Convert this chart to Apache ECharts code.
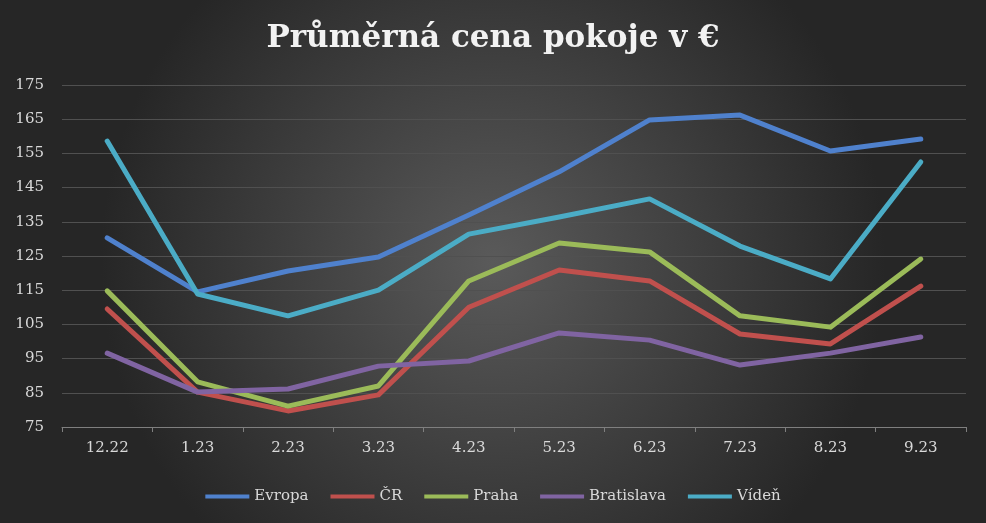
<!DOCTYPE html>
<html>
<head>
<meta charset="utf-8">
<script src="https://cdn.jsdelivr.net/npm/echarts@6/dist/echarts.min.js"></script>
<style>
html, body { margin: 0; padding: 0; }
#chart { width: 986px; height: 523px; }
</style>
</head>
<body>
<div id="chart"></div>
<script>
var months = ['12.22', '1.23', '2.23', '3.23', '4.23', '5.23', '6.23', '7.23', '8.23', '9.23'];
var evropa = [130.3, 114.5, 120.6, 124.7, 137, 149.6, 164.8, 166.2, 155.7, 159.2];
var cr = [109.5, 85.2, 79.7, 84.4, 110, 120.9, 117.7, 102.2, 99.3, 116.2];
var praha = [114.8, 88.2, 81.1, 87, 117.7, 128.8, 126.2, 107.5, 104.2, 124.1];
var bratislava = [96.6, 85.2, 86.1, 92.8, 94.3, 102.5, 100.4, 93.1, 96.6, 101.3];
var viden = [158.6, 113.9, 107.5, 115, 131.4, 136.4, 141.7, 127.9, 118.3, 152.5];

var font = 'DejaVu Serif';
function line(name, data, color) {
    return {
        name: name,
        type: 'line',
        data: data,
        symbol: 'none',
        lineStyle: {width: 5, color: color, cap: 'round', join: 'round'},
        itemStyle: {color: color}
    };
}

var myChart = echarts.init(document.getElementById('chart'));
myChart.setOption({
    backgroundColor: {
        type: 'radial', x: 0.5, y: 0.5, r: 0.75,
        colorStops: [{offset: 0, color: '#5a5a5a'}, {offset: 1, color: '#262626'}]
    },
    title: {
        text: 'Průměrná cena pokoje v €',
        left: 'center',
        top: 18,
        textStyle: {color: '#f2f2f2', fontFamily: font, fontWeight: 'bold', fontSize: 31}
    },
    legend: {
        bottom: 14,
        icon: 'rect',
        itemWidth: 44,
        itemHeight: 4,
        itemGap: 22,
        textStyle: {color: '#d9d9d9', fontFamily: font, fontSize: 15}
    },
    grid: {left: 62, right: 20, top: 85, bottom: 96},
    xAxis: {
        type: 'category',
        data: months,
        axisLine: {lineStyle: {color: '#7f7f7f'}},
        axisTick: {show: true, lineStyle: {color: '#7f7f7f'}},
        axisLabel: {color: '#d9d9d9', fontFamily: font, fontSize: 15, margin: 14}
    },
    yAxis: {
        type: 'value',
        min: 75,
        max: 175,
        interval: 10,
        axisLine: {show: false},
        axisTick: {show: false},
        splitLine: {lineStyle: {color: '#505050'}},
        axisLabel: {color: '#d9d9d9', fontFamily: font, fontSize: 15, margin: 18}
    },
    series: [
        line('Evropa', evropa, '#4f81cd'),
        line('ČR', cr, '#c0504d'),
        line('Praha', praha, '#9bbb59'),
        line('Bratislava', bratislava, '#8064a2'),
        line('Vídeň', viden, '#4bacc6')
    ]
});
</script>
</body>
</html>
